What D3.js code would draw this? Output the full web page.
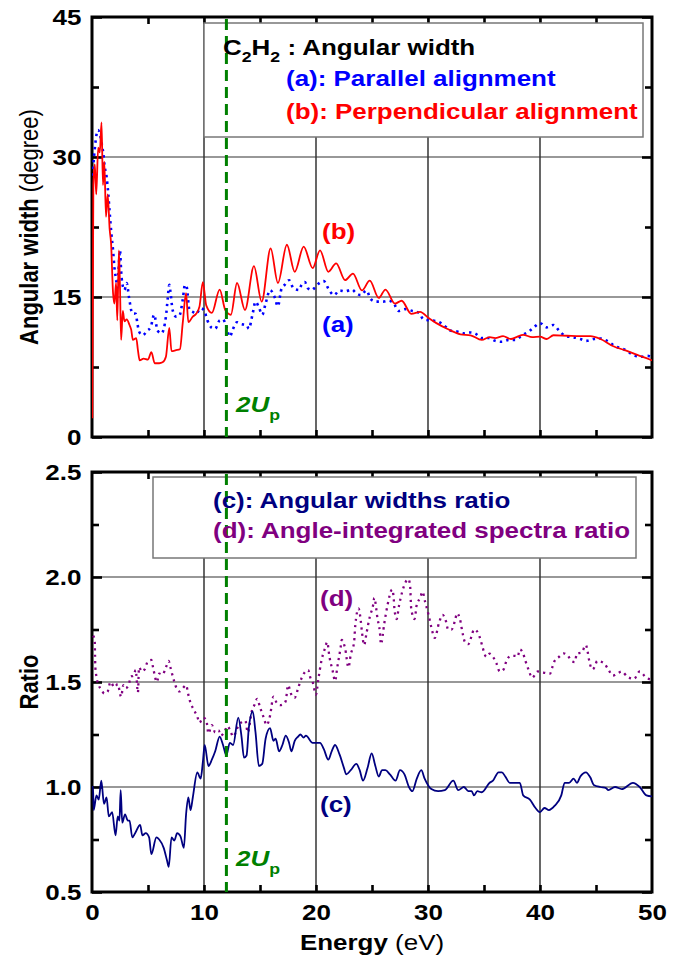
<!DOCTYPE html>
<html>
<head>
<meta charset="utf-8">
<script src="https://d3js.org/d3.v7.min.js"></script>
<style>
body { margin: 0; background: #fff; }
svg { display: block; font-family: "Liberation Sans", Arial, sans-serif; }
</style>
</head>
<body>
<div id="chart-area"></div>
<script>
// ---- data (energy in eV, value) ----
var parallel = [[0.05,28],[0.18,30],[0.3,31.5],[0.54,32.9],[0.75,32.2],[0.9,31.2],[1.0,30.5],[1.13,29],[1.3,27.9],[1.45,26.1],[1.58,24],[1.73,21.8],[1.88,20],[2.0,18.2],[2.16,16.8],[2.25,16],[2.36,17.6],[2.5,20],[2.6,17.8],[2.7,16.5],[2.9,15.75],[3.1,16.5],[3.3,15],[3.6,13.25],[3.9,13.2],[4.05,12.2],[4.2,11.3],[4.5,10.9],[4.95,11.4],[5.25,11.8],[5.55,13.1],[5.85,11.4],[6.2,11.1],[6.6,12.9],[6.75,14.7],[6.9,16.3],[7.0,15.6],[7.2,13.6],[7.5,12.9],[7.8,13.0],[8.1,14.7],[8.3,16.3],[8.45,16.1],[8.7,13.6],[9.0,13.4],[9.3,13.2],[9.7,13.8],[10.0,13.6],[10.3,12.5],[10.7,11.7],[11.0,11.6],[11.4,12.5],[11.7,12.6],[12.0,11.8],[12.3,10.75],[12.6,11.6],[12.95,12.3],[13.3,12.1],[13.8,12.0],[14.0,11.6],[14.35,13.25],[14.6,14.5],[14.9,13.9],[15.2,13.1],[15.5,14.3],[15.9,15.75],[16.3,15.0],[16.6,14.0],[16.9,15.8],[17.2,16.3],[17.6,16.8],[18.0,15.9],[18.5,15.75],[18.7,16.3],[19.0,16.6],[19.3,15.9],[19.6,15.75],[19.9,16.0],[20.2,16.4],[20.7,16.7],[21.1,15.9],[21.6,15.2],[22.1,15.7],[22.6,15.6],[23.2,15.8],[23.6,15.4],[24.0,15.2],[24.5,15.7],[24.9,14.75],[25.4,14.5],[26.0,14.5],[26.5,14.6],[27.0,14.2],[27.35,13.5],[28.0,13.7],[28.6,13.5],[29.2,13.3],[29.6,12.6],[30.2,12.5],[30.8,12.4],[31.4,12.0],[32.0,11.4],[32.6,11.3],[33.2,11.1],[33.7,11.2],[34.2,11.1],[34.8,10.6],[35.4,10.6],[36.0,10.3],[36.6,10.2],[37.2,10.4],[37.8,10.4],[38.4,10.9],[39.0,11.3],[39.5,11.8],[40.0,12.2],[40.6,11.75],[41.2,12.0],[41.7,11.4],[42.3,10.8],[42.9,10.7],[43.6,10.5],[44.1,10.3],[44.8,10.5],[45.4,10.55],[46.0,10.3],[46.6,9.8],[47.65,9.3],[48.4,8.75],[49.0,8.6],[49.6,8.7],[50,8.5]];

var perpendicular = [[0.03,2],[0.12,27],[0.25,29.2],[0.38,26],[0.55,31],[0.7,30.5],[0.85,33.7],[0.98,27],[1.1,29.5],[1.25,23.6],[1.4,26],[1.58,22.2],[1.7,20.8],[1.88,15.4],[2.0,14.3],[2.15,16.5],[2.26,12.5],[2.4,20],[2.5,16],[2.6,10.4],[2.75,13.5],[2.9,12.4],[3.1,12.6],[3.35,12.0],[3.5,11.5],[3.65,10.4],[3.95,10.6],[4.1,9.3],[4.26,8.2],[4.6,8.4],[5.0,8.3],[5.3,9.1],[5.6,7.9],[6.0,7.9],[6.3,8.0],[6.6,8.6],[6.9,11.7],[7.1,9.2],[7.5,9.3],[7.85,9.4],[8.1,12.2],[8.4,15.4],[8.6,12.3],[9.0,12.9],[9.3,13.2],[9.6,14.0],[9.9,16.6],[10.2,14.1],[10.7,13.3],[11.4,15.8],[11.9,13.6],[12.4,13.1],[12.95,16.5],[13.66,13.6],[14.46,18.3],[15.15,14.5],[15.95,20.2],[16.6,16.5],[17.4,20.6],[18.1,17.7],[18.9,20.4],[19.7,18.1],[20.36,20.0],[21.1,17.7],[21.8,18.6],[22.6,16.8],[23.3,17.5],[24.1,15.7],[24.8,16.75],[25.6,14.9],[26.2,15.8],[27.05,14.3],[27.65,14.6],[28.5,13.2],[29.3,13.4],[30.0,12.8],[30.75,12.2],[31.7,11.6],[32.9,11.0],[33.8,10.9],[34.8,10.4],[35.5,10.7],[36.0,10.6],[36.7,10.8],[37.4,10.5],[37.9,10.7],[38.5,10.95],[39.3,10.7],[40.0,10.75],[40.6,10.5],[41.2,10.9],[42.4,10.85],[43.6,10.8],[44.5,10.8],[45.4,10.5],[46.5,9.75],[47.7,9.25],[48.9,8.7],[49.8,8.3],[50,8.2]];

var widthRatio = [[0.0,1.0],[0.09,1.0],[0.15,0.89],[0.4,0.96],[0.6,0.94],[0.83,1.03],[1.07,0.92],[1.3,0.95],[1.5,0.86],[1.8,0.88],[2.1,0.77],[2.3,0.86],[2.45,0.84],[2.56,0.985],[2.7,0.83],[2.95,0.87],[3.2,0.84],[3.35,0.84],[3.6,0.76],[3.85,0.78],[4.3,0.82],[4.5,0.77],[4.8,0.78],[5.1,0.76],[5.3,0.68],[5.75,0.76],[6.0,0.75],[6.4,0.71],[6.7,0.65],[6.85,0.62],[7.1,0.76],[7.35,0.745],[7.6,0.78],[7.9,0.765],[8.2,0.71],[8.4,0.87],[8.6,0.95],[8.8,0.89],[9.0,0.95],[9.4,1.07],[9.7,1.04],[9.9,1.12],[10.06,1.2],[10.4,1.1],[10.7,1.13],[11.0,1.17],[11.4,1.24],[11.7,1.2],[12.0,1.15],[12.3,1.21],[12.6,1.2],[13.06,1.33],[13.35,1.24],[13.57,1.14],[13.8,1.15],[14.0,1.28],[14.35,1.36],[14.6,1.26],[14.9,1.1],[15.2,1.11],[15.5,1.23],[15.9,1.28],[16.2,1.22],[16.4,1.23],[16.7,1.17],[17.0,1.2],[17.3,1.245],[17.6,1.21],[17.8,1.17],[18.1,1.22],[18.4,1.24],[18.6,1.25],[18.9,1.235],[19.1,1.245],[19.7,1.21],[20.36,1.21],[20.7,1.18],[21.1,1.13],[21.4,1.17],[21.7,1.2],[22.1,1.155],[22.5,1.09],[22.7,1.06],[23.1,1.08],[23.6,1.11],[23.9,1.08],[24.2,1.03],[24.6,1.09],[24.97,1.16],[25.3,1.1],[25.6,1.05],[25.9,1.08],[26.2,1.08],[26.6,1.06],[27.1,1.03],[27.5,1.08],[27.9,1.06],[28.3,1.0],[28.6,0.98],[29.0,1.04],[29.4,1.08],[29.7,1.04],[30.3,0.99],[30.9,0.98],[31.5,0.985],[32.26,1.03],[32.7,0.985],[33.2,1.0],[33.6,0.98],[33.9,0.98],[34.1,0.96],[34.4,0.98],[34.8,0.975],[35.5,1.02],[35.8,1.03],[36.3,1.07],[36.6,1.07],[36.9,1.05],[37.3,1.02],[37.7,1.02],[38.2,1.02],[38.5,0.96],[39.1,0.94],[39.6,0.9],[40.0,0.88],[40.4,0.9],[40.8,0.89],[41.3,0.91],[41.9,0.96],[42.2,1.02],[42.6,1.02],[43.0,1.04],[43.3,1.02],[43.6,1.05],[44.1,1.07],[44.5,1.045],[44.8,1.01],[45.4,1.0],[45.9,0.995],[46.1,0.985],[46.7,1.0],[47.3,0.99],[48.3,1.02],[48.9,1.0],[49.5,0.96],[50.0,0.955]];

var spectraRatio = [[0.1,1.72],[0.24,1.7],[0.27,1.63],[0.3,1.57],[0.4,1.525],[0.6,1.485],[0.87,1.46],[1.1,1.445],[1.4,1.455],[1.65,1.5],[2.0,1.475],[2.3,1.49],[2.6,1.43],[2.8,1.485],[3.0,1.47],[3.3,1.49],[3.45,1.525],[3.7,1.53],[3.9,1.557],[4.1,1.45],[4.2,1.57],[4.45,1.55],[4.7,1.56],[5.0,1.6],[5.3,1.605],[5.45,1.57],[5.8,1.5],[6.0,1.54],[6.3,1.535],[6.6,1.57],[6.85,1.6],[7.0,1.57],[7.3,1.51],[7.55,1.47],[7.8,1.455],[8.1,1.47],[8.4,1.485],[8.6,1.44],[8.8,1.4],[9.1,1.367],[9.4,1.335],[9.6,1.306],[9.9,1.33],[10.2,1.32],[10.4,1.255],[10.7,1.295],[11.0,1.26],[11.3,1.27],[11.5,1.245],[11.8,1.26],[12.1,1.29],[12.4,1.26],[12.6,1.24],[13.1,1.295],[13.4,1.31],[13.7,1.315],[13.9,1.26],[14.3,1.367],[14.5,1.39],[14.75,1.42],[15.0,1.38],[15.3,1.335],[15.6,1.295],[15.9,1.34],[16.2,1.43],[16.5,1.4],[16.8,1.39],[17.1,1.395],[17.3,1.41],[17.5,1.485],[17.8,1.44],[18.1,1.425],[18.4,1.47],[18.7,1.517],[19.3,1.557],[19.5,1.52],[19.7,1.5],[20.0,1.44],[20.2,1.51],[20.5,1.605],[20.8,1.66],[21.0,1.69],[21.2,1.62],[21.5,1.55],[21.7,1.505],[21.9,1.57],[22.2,1.665],[22.3,1.7],[22.6,1.66],[22.9,1.57],[23.1,1.63],[23.4,1.69],[23.5,1.765],[23.8,1.85],[24.0,1.79],[24.1,1.74],[24.3,1.676],[24.5,1.73],[24.8,1.81],[25.1,1.867],[25.2,1.9],[25.5,1.8],[25.7,1.74],[25.8,1.68],[26.1,1.78],[26.4,1.87],[26.8,1.94],[26.95,1.89],[27.0,1.85],[27.2,1.8],[27.4,1.86],[27.7,1.93],[28.25,1.99],[28.4,1.96],[28.5,1.85],[28.8,1.8],[29.0,1.87],[29.3,1.9],[29.5,1.93],[29.75,1.88],[30.05,1.82],[30.3,1.76],[30.6,1.71],[31.0,1.785],[31.3,1.82],[31.6,1.79],[31.8,1.75],[32.1,1.75],[32.4,1.79],[32.6,1.827],[32.85,1.8],[33.1,1.73],[33.3,1.69],[33.6,1.68],[33.9,1.72],[34.1,1.75],[34.4,1.74],[34.7,1.7],[34.9,1.66],[35.2,1.62],[35.5,1.635],[35.8,1.62],[36.1,1.59],[36.4,1.55],[36.75,1.56],[37.0,1.6],[37.4,1.624],[37.8,1.624],[38.0,1.62],[38.2,1.655],[38.5,1.635],[38.7,1.6],[39.0,1.555],[39.3,1.52],[39.8,1.55],[40.3,1.545],[40.9,1.54],[41.1,1.57],[41.3,1.6],[41.7,1.62],[42.1,1.636],[42.5,1.625],[42.8,1.6],[43.1,1.595],[43.3,1.636],[43.7,1.64],[44.1,1.676],[44.25,1.645],[44.4,1.6],[44.7,1.56],[44.9,1.575],[45.1,1.6],[45.7,1.59],[46.1,1.56],[46.5,1.53],[46.9,1.54],[47.3,1.55],[47.8,1.525],[48.4,1.515],[48.9,1.55],[49.5,1.52],[50.0,1.51]];

var energyTicks = [0, 10, 20, 30, 40, 50];
var energyMinor = [5, 10, 15, 20, 25, 30, 35, 40, 45];
var widthTicks = [0, 15, 30, 45];
var widthMinor = [7.5, 22.5, 37.5];
var ratioTicks = [0.5, 1.0, 1.5, 2.0, 2.5];
var ratioMinor = [0.75, 1.25, 1.75, 2.25];
var twoUp = 12;   // 2Up marker, eV

// ---- layout ----
var width = 682, height = 964;
var stretch = 1.18;   // the original text is a little wider than Arial

var svg = d3.select("#chart-area").append("svg")
	.attr("width", width)
	.attr("height", height);

svg.append("rect").attr("width", width).attr("height", height).attr("fill", "#fff");

var x = d3.scaleLinear().domain([0, 50]).range([92, 652]);
var yTop = d3.scaleLinear().domain([0, 45]).range([437, 17]);
var yBot = d3.scaleLinear().domain([0.5, 2.5]).range([892, 472]);

var line = function(y){
	return d3.line()
		.x(function(d){ return x(d[0]); })
		.y(function(d){ return y(d[1]); })
		.curve(d3.curveMonotoneX);
};

function stretchText(sel){
	sel.selectAll("text").attr("transform", "scale(" + stretch + ",1)");
}

function drawPanel(g, y, yTicks, yMinor, fmt, gridY, clipId, showXLabels){
	var y0 = y.range()[1], y1 = y.range()[0];

	g.append("clipPath").attr("id", clipId).append("rect")
		.attr("x", x(0)).attr("y", y0).attr("width", x(50) - x(0)).attr("height", y1 - y0);

	// grid
	g.selectAll(".vgrid").data([10, 20, 30, 40]).enter().append("line")
		.attr("x1", function(d){ return x(d); }).attr("x2", function(d){ return x(d); })
		.attr("y1", y0).attr("y2", y1)
		.attr("stroke", "#000").attr("stroke-width", 1.2);
	g.selectAll(".hgrid").data(gridY).enter().append("line")
		.attr("x1", x(0)).attr("x2", x(50))
		.attr("y1", function(d){ return y(d); }).attr("y2", function(d){ return y(d); })
		.attr("stroke", "#333").attr("stroke-width", 1.2);

	// ticks (inward)
	var ax;
	ax = g.append("g").attr("transform", "translate(" + x(0) + ",0)")
		.call(d3.axisLeft(y).tickValues(yTicks).tickSizeInner(-10).tickSizeOuter(0).tickPadding(9).tickFormat(fmt));
	ax.selectAll("text").style("font-size", "22px").style("font-weight", "bold").attr("fill", "#000");
	stretchText(ax);
	g.append("g").attr("transform", "translate(" + x(0) + ",0)")
		.call(d3.axisLeft(y).tickValues(yMinor).tickSizeInner(-7).tickSizeOuter(0).tickFormat(""));
	g.append("g").attr("transform", "translate(" + x(50) + ",0)")
		.call(d3.axisRight(y).tickValues(yTicks).tickSizeInner(-10).tickSizeOuter(0).tickFormat(""));
	g.append("g").attr("transform", "translate(" + x(50) + ",0)")
		.call(d3.axisRight(y).tickValues(yMinor).tickSizeInner(-7).tickSizeOuter(0).tickFormat(""));
	g.append("g").attr("transform", "translate(0," + y0 + ")")
		.call(d3.axisTop(x).tickValues(energyMinor).tickSizeInner(-7).tickSizeOuter(0).tickFormat(""));
	g.append("g").attr("transform", "translate(0," + y1 + ")")
		.call(d3.axisBottom(x).tickValues(energyMinor).tickSizeInner(-7).tickSizeOuter(0).tickFormat(""));
	if (showXLabels){
		ax = g.append("g").attr("transform", "translate(0," + y1 + ")")
			.call(d3.axisBottom(x).tickValues(energyTicks).tickSize(0).tickPadding(12).tickFormat(d3.format("d")));
		ax.selectAll("text").style("font-size", "22px").style("font-weight", "bold").attr("fill", "#000");
		stretchText(ax);
	}
	g.selectAll(".domain").remove();
	g.selectAll(".tick line").attr("stroke", "#000").attr("stroke-width", 2.6);

	// frame
	g.append("rect")
		.attr("x", x(0)).attr("y", y0).attr("width", x(50) - x(0)).attr("height", y1 - y0)
		.attr("fill", "none").attr("stroke", "#000").attr("stroke-width", 3);
}

// ---- top panel: angular width ----
var gTop = svg.append("g");
drawPanel(gTop, yTop, widthTicks, widthMinor, d3.format("d"), [15, 30], "clipTop", false);

gTop.append("rect")
	.attr("x", 204).attr("y", 23).attr("width", 439).attr("height", 114)
	.attr("fill", "#fff").attr("stroke", "#777").attr("stroke-width", 1.5);

gTop.append("path").datum(parallel)
	.attr("d", line(yTop)).attr("clip-path", "url(#clipTop)")
	.attr("fill", "none").attr("stroke", "#0000ff").attr("stroke-width", 2.6)
	.attr("stroke-dasharray", "2.4,4.2");
gTop.append("path").datum(perpendicular)
	.attr("d", line(yTop)).attr("clip-path", "url(#clipTop)")
	.attr("fill", "none").attr("stroke", "#ff0000").attr("stroke-width", 1.8);

// ---- bottom panel: ratios ----
var gBot = svg.append("g");
drawPanel(gBot, yBot, ratioTicks, ratioMinor, d3.format(".1f"), [1.0, 1.5, 2.0], "clipBot", true);

gBot.append("rect")
	.attr("x", 153).attr("y", 477).attr("width", 483).attr("height", 81)
	.attr("fill", "#fff").attr("stroke", "#777").attr("stroke-width", 1.5);

gBot.append("path").datum(spectraRatio)
	.attr("d", line(yBot)).attr("clip-path", "url(#clipBot)")
	.attr("fill", "none").attr("stroke", "#800080").attr("stroke-width", 2.3)
	.attr("stroke-dasharray", "2.2,4.2");
gBot.append("path").datum(widthRatio)
	.attr("d", line(yBot)).attr("clip-path", "url(#clipBot)")
	.attr("fill", "none").attr("stroke", "#000080").attr("stroke-width", 1.8);

// ---- 2Up markers ----
[yTop, yBot].forEach(function(y){
	svg.append("line")
		.attr("x1", x(twoUp)).attr("x2", x(twoUp))
		.attr("y1", y.range()[1] + 2).attr("y2", y.range()[0])
		.attr("stroke", "#008000").attr("stroke-width", 3)
		.attr("stroke-dasharray", "11,6");
});

// ---- text helpers ----
function label(xp, yp, color, size){
	return svg.append("text")
		.attr("transform", "translate(" + xp + "," + yp + ") scale(" + stretch + ",1)")
		.attr("fill", color)
		.style("font-size", (size || 22) + "px")
		.style("font-weight", "bold");
}

// legend, top
var t = label(223, 55, "#000");
t.append("tspan").text("C");
t.append("tspan").attr("dy", 7).style("font-size", "15px").text("2");
t.append("tspan").attr("dy", -7).text("H");
t.append("tspan").attr("dy", 7).style("font-size", "15px").text("2");
t.append("tspan").attr("dy", -7).text(" : Angular width");
label(286, 86, "#0000ff").text("(a): Parallel alignment");
label(286, 119, "#ff0000").text("(b): Perpendicular alignment");

// legend, bottom
label(213, 508, "#000080").text("(c): Angular widths ratio");
label(213, 538, "#800080").text("(d): Angle-integrated spectra ratio");

// curve tags
label(322, 239, "#ff0000").text("(b)");
label(322, 332, "#0000ff").text("(a)");
label(320, 606, "#800080").text("(d)");
label(320, 812, "#000080").text("(c)");

// 2Up tags
[412, 866].forEach(function(yp){
	var u = label(236, yp, "#008000");
	u.append("tspan").style("font-style", "italic").text("2U");
	u.append("tspan").attr("dy", 8).style("font-size", "15px").text("p");
});

// axis titles
var yt = svg.append("text")
	.attr("transform", "translate(38,227) scale(" + stretch + ",1) rotate(-90)")
	.attr("text-anchor", "middle").style("font-size", "22px").attr("fill", "#000");
yt.append("tspan").style("font-weight", "bold").text("Angular width ");
yt.append("tspan").text("(degree)");

svg.append("text")
	.attr("transform", "translate(38,682) scale(" + stretch + ",1) rotate(-90)")
	.attr("text-anchor", "middle").style("font-size", "22px").style("font-weight", "bold")
	.attr("fill", "#000").text("Ratio");

var xt = svg.append("text")
	.attr("transform", "translate(" + x(25) + ",950) scale(" + stretch + ",1)")
	.attr("text-anchor", "middle").style("font-size", "22px").attr("fill", "#000");
xt.append("tspan").style("font-weight", "bold").text("Energy ");
xt.append("tspan").text("(eV)");
</script>
</body>
</html>
